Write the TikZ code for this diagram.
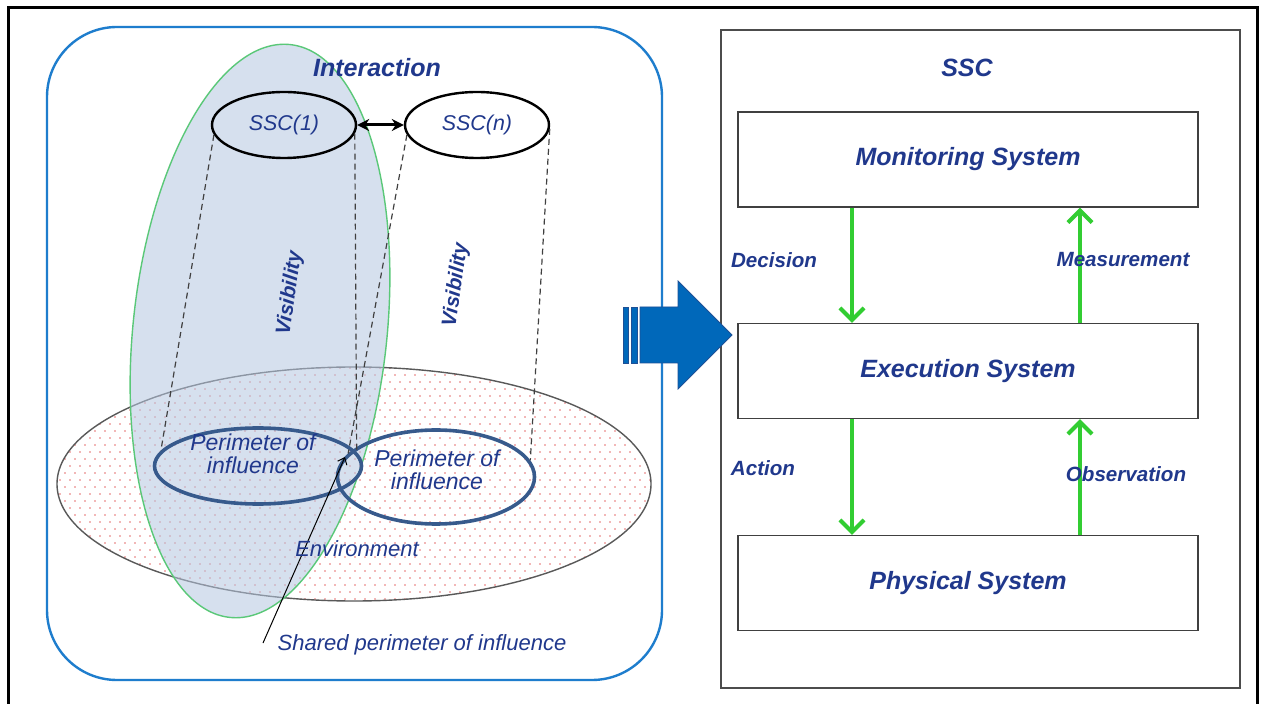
\documentclass[tikz,border=0pt]{standalone}
\usepackage{fontspec}
\setmainfont{Liberation Sans}
\usetikzlibrary{shapes.geometric,arrows.meta,patterns}
\pgfdeclarepatternformonly{reddots}{\pgfqpoint{-0.6pt}{-0.6pt}}{\pgfqpoint{5.6pt}{7.6pt}}{\pgfqpoint{5pt}{7pt}}{\pgfpathcircle{\pgfqpoint{0pt}{0pt}}{0.45pt}\pgfpathcircle{\pgfqpoint{2.5pt}{3.5pt}}{0.45pt}\pgfusepath{fill}}
\definecolor{txtblue}{RGB}{32,56,140}
\definecolor{frameblue}{RGB}{30,125,205}
\definecolor{visfill}{RGB}{182,200,225}
\definecolor{visedge}{RGB}{90,200,120}
\definecolor{perim}{RGB}{55,90,140}
\definecolor{arrowblue}{RGB}{0,104,186}
\definecolor{arrowedge}{RGB}{30,80,150}
\definecolor{ggreen}{RGB}{50,205,50}
\definecolor{dotred}{RGB}{230,110,110}
\tikzset{
  lbl/.style={text=txtblue, font=\itshape\fontsize{11}{13}\selectfont, inner sep=0pt, align=center},
  blbl/.style={text=txtblue, font=\bfseries\itshape\fontsize{12.5}{14}\selectfont, inner sep=0pt, align=center},
  slbl/.style={text=txtblue, font=\bfseries\itshape\fontsize{10.3}{12}\selectfont, inner sep=0pt},
  sscell/.style={ellipse, draw=black, line width=1.2pt, minimum width=72pt, minimum height=33pt, inner sep=0pt,
     text=txtblue, font=\itshape\fontsize{10.7}{12}\selectfont},
  perimell/.style={ellipse, draw=perim, line width=1.8pt, inner sep=0pt},
  sysbox/.style={draw=black!75, line width=0.7pt, minimum width=230pt, minimum height=47.5pt, inner sep=0pt,
     text=txtblue, font=\bfseries\itshape\fontsize{12.5}{14}\selectfont},
  vis/.style={black!75, line width=0.6pt, dash pattern=on 3pt off 2pt},
  garrow/.style={ggreen, line width=2pt, -{Straight Barb[length=6pt,width=12pt,line width=2pt]}}
}
\begin{document}
\begin{tikzpicture}[x=0.5pt,y=-0.5pt]
\useasboundingbox (0,0) rectangle (1261,704);
\clip (0,0) rectangle (1261,704);
\fill[white] (0,0) rectangle (1261,704);
% outer frame
\draw[black, line width=1.5pt] (8,8) rectangle (1257,720);
% left rounded frame
\draw[frameblue, line width=1.2pt, rounded corners=35pt] (47,27) rectangle (662,680);
% environment
\fill[white] (354,484) ellipse [x radius=148.5pt, y radius=58.5pt];
\fill[pattern=reddots, pattern color=dotred] (354,484) ellipse [x radius=148.5pt, y radius=58.5pt];
\draw[black!65, line width=0.7pt] (354,484) ellipse [x radius=148.5pt, y radius=58.5pt];
% visibility region
\draw[visedge, line width=0.7pt, fill=visfill, fill opacity=0.55] (260,331) ellipse [x radius=63.5pt, y radius=144pt, rotate=-6];
% SSC ellipses
\node[sscell] (s1) at (284,125) {SSC(1)};
\node[sscell] (sn) at (477,125) {SSC(n)};
\draw[black, line width=1.5pt, {Stealth[length=6pt,width=6pt]}-{Stealth[length=6pt,width=6pt]}] (s1.east) -- (sn.west);
% perimeters
\node[perimell, minimum width=103.5pt, minimum height=38pt] (p1) at (258,466) {};
\node[perimell, minimum width=98.5pt, minimum height=47pt] (p2) at (436,477) {};
% dashed projections
\draw[vis] (s1.188) -- (p1.171);
\draw[vis] (s1.353) -- (p1.8);
\draw[vis] (sn.188) -- (p2.165);
\draw[vis] (sn.357) -- (p2.10);
% shared perimeter arrow
\coordinate (sh) at (263,643);
\coordinate (shtip) at (345,457);
\draw[black, line width=0.5pt, -{Straight Barb[length=3pt,width=5pt]}] (sh) -- (shtip);
% texts left
\node[blbl] (tint) at (377,68) {Interaction};
\node[slbl, rotate=82] (tv1) at (290,293) {Visibility};
\node[slbl, rotate=82] (tv2) at (456,285) {Visibility};
\node[lbl, font=\itshape\fontsize{11.5}{11.5}\selectfont] (tp1) at (253,454) {Perimeter of\\influence};
\node[lbl, font=\itshape\fontsize{11.5}{11.5}\selectfont] (tp2) at (437,470) {Perimeter of\\influence};
\node[lbl] (tenv) at (357,549) {Environment};
\node[lbl] (tsh) at (422,645) {Shared perimeter of influence};
% right box
\draw[black!70, line width=0.8pt] (721,30) rectangle (1240,688);
\node[blbl] (tssc) at (967,68) {SSC};
\node[sysbox] (mon) at (968,159.5) {Monitoring System};
\node[sysbox] (exe) at (968,371) {Execution System};
\node[sysbox] (phy) at (968,583) {Physical System};
\coordinate (xl) at (852,0);
\coordinate (xr) at (1080,0);
\draw[garrow] (mon.south -| xl) -- (exe.north -| xl);
\draw[garrow] (exe.south -| xl) -- (phy.north -| xl);
\draw[garrow] (exe.north -| xr) -- (mon.south -| xr);
\draw[garrow] (phy.north -| xr) -- (exe.south -| xr);
\node[slbl] (tdec) at (774,260) {Decision};
\node[slbl] (tmea) at (1123,260) {Measurement};
\node[slbl] (tact) at (763,468) {Action};
\node[slbl] (tobs) at (1126,474) {Observation};
% big blue arrow
\fill[arrowblue, draw=arrowedge, line width=0.4pt] (623,307) rectangle (628,363);
\fill[arrowblue, draw=arrowedge, line width=0.4pt] (631,307) rectangle (637,363);
\filldraw[fill=arrowblue, draw=arrowedge, line width=0.4pt] (640,307) -- (678,307) -- (678,281) -- (732,335) -- (678,389) -- (678,363) -- (640,363) -- cycle;
\end{tikzpicture}
\end{document}
